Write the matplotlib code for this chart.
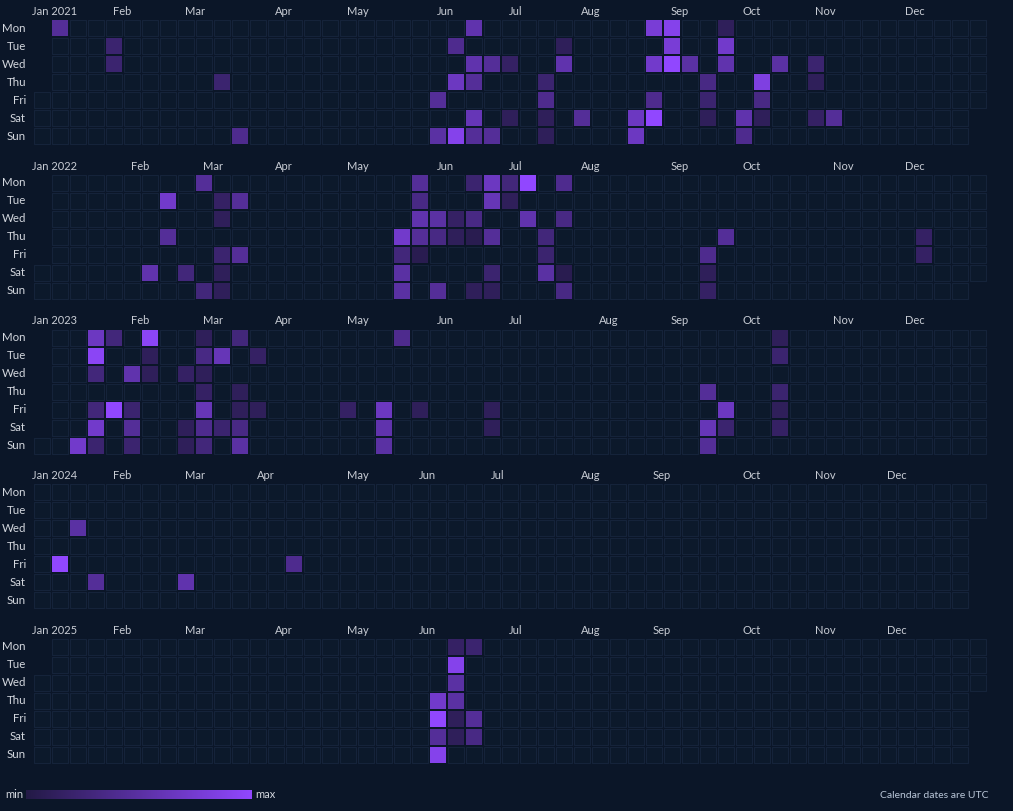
"""Daily activity calendar heatmap, one row-block per year (2021-2025),
weeks as columns (Mon..Sun rows), dark theme with a purple min->max scale."""

import datetime as dt

import matplotlib

matplotlib.use("Agg")
import matplotlib.pyplot as plt
from matplotlib.collections import PatchCollection
from matplotlib.colors import LinearSegmentedColormap, Normalize
from matplotlib.patches import Rectangle
import numpy as np

YEARS = [2021, 2022, 2023, 2024, 2025]
DAY_NAMES = ["Mon", "Tue", "Wed", "Thu", "Fri", "Sat", "Sun"]
MONTH_NAMES = ["Jan", "Feb", "Mar", "Apr", "May", "Jun",
               "Jul", "Aug", "Sep", "Oct", "Nov", "Dec"]

# active days (MM-DD) and relative activity (1 = min, 10 = max)
DAYS_2021 = ["01-04", "01-26", "01-27", "03-11", "03-21", "06-04", "06-06", "06-08",
             "06-10", "06-13", "06-14", "06-16", "06-17", "06-19", "06-20", "06-23",
             "06-27", "06-30", "07-03", "07-15", "07-16", "07-17", "07-18", "07-20",
             "07-21", "07-31", "08-21", "08-22", "08-23", "08-25", "08-27", "08-28",
             "08-30", "08-31", "09-01", "09-08", "09-16", "09-17", "09-18", "09-20",
             "09-21", "09-22", "10-02", "10-03", "10-07", "10-08", "10-09", "10-13",
             "10-27", "10-28", "10-30", "11-06"]
VALUES_2021 = [5, 3, 3, 3, 4.5, 5, 5.5, 4.5,
               7, 9, 6, 6, 5, 6.5, 5, 5,
               5, 2.5, 2, 3, 4.5, 2, 2, 2,
               6, 5, 7, 7, 8, 7.5, 4.5, 10,
               9, 8, 10, 5.5, 4, 3, 2, 2,
               7.5, 6, 6, 4.5, 8.5, 4, 2, 5.5,
               3, 2, 2.5, 5]

DAYS_2022 = ["02-12", "02-15", "02-17", "02-26", "02-28", "03-06", "03-08", "03-09",
             "03-11", "03-12", "03-13", "03-15", "03-18", "05-19", "05-20", "05-21",
             "05-22", "05-23", "05-24", "05-25", "05-26", "05-27", "06-01", "06-02",
             "06-05", "06-08", "06-09", "06-13", "06-15", "06-16", "06-19", "06-20",
             "06-21", "06-23", "06-25", "06-26", "06-27", "06-28", "07-04", "07-06",
             "07-14", "07-15", "07-16", "07-18", "07-20", "07-23", "07-24", "09-16",
             "09-17", "09-18", "09-22", "12-08", "12-09"]
VALUES_2022 = [6, 7.5, 5, 3.5, 5, 3.5, 2.5, 2,
               3, 2, 2, 5, 5, 7.5, 3.5, 5.5,
               5.5, 5, 4, 6, 5, 1.5, 5.5, 4,
               5, 2.5, 2, 3, 4, 1.5, 2, 7,
               6.5, 5, 3, 2, 3.5, 2, 10, 6,
               3.5, 3, 5.5, 4.5, 4, 1.5, 4, 4.5,
               2, 2.5, 5, 2.5, 2.5]

DAYS_2023 = ["01-15", "01-16", "01-17", "01-18", "01-20", "01-21", "01-22", "01-23",
             "01-27", "02-01", "02-03", "02-04", "02-05", "02-06", "02-07", "02-08",
             "02-22", "02-25", "02-26", "02-27", "02-28", "03-01", "03-02", "03-03",
             "03-04", "03-05", "03-07", "03-11", "03-13", "03-16", "03-17", "03-18",
             "03-19", "03-21", "03-24", "04-28", "05-12", "05-13", "05-14", "05-15",
             "05-26", "06-23", "06-24", "09-14", "09-16", "09-17", "09-22", "09-23",
             "10-09", "10-10", "10-12", "10-13", "10-14"]
VALUES_2023 = [7.5, 7, 9.5, 3.5, 3.5, 7.5, 3, 3.5,
               10, 6, 3, 5, 3, 9.5, 2, 2,
               2.5, 2, 2, 2, 4, 2, 2.5, 6.5,
               4.5, 3.5, 6.5, 3, 3.5, 2, 2, 4,
               5.5, 2.5, 2, 2.5, 7, 6, 5.5, 4.5,
               2, 2, 2, 5, 6.5, 5, 7, 3,
               2, 3, 3, 2, 2.5]

DAYS_2024 = ["01-12", "01-17", "01-27", "03-02", "04-12"]
VALUES_2024 = [10, 5.5, 5, 6, 4.5]

DAYS_2025 = ["06-05", "06-06", "06-07", "06-08", "06-09", "06-10", "06-11", "06-12",
             "06-13", "06-14", "06-16", "06-20", "06-21"]
VALUES_2025 = [7.5, 10, 5, 9, 2.5, 9, 5.5, 5.5,
               2, 2, 3, 5, 4]

ACTIVITY = {
    2021: (DAYS_2021, VALUES_2021),
    2022: (DAYS_2022, VALUES_2022),
    2023: (DAYS_2023, VALUES_2023),
    2024: (DAYS_2024, VALUES_2024),
    2025: (DAYS_2025, VALUES_2025),
}

BG = "#0b1628"
EMPTY_FACE = "#0c192b"
EMPTY_EDGE = "#15233a"
LABEL_COLOR = "#d3d7de"
MONTH_COLOR = "#c9cdd5"
CMAP = LinearSegmentedColormap.from_list("act", ["#231a46", "#9147ff"])
NORM = Normalize(vmin=1, vmax=10)

plt.rcParams["font.family"] = ["Lato", "DejaVu Sans"]

W, H = 1013, 811
PITCH = 18.0      # px per week column / weekday row
GAP = 1.0 / PITCH  # half of the 2px gap, in cell units


def px_rect(x, y, w, h):
    return [x / W, 1 - (y + h) / H, w / W, h / H]


def main():
    fig = plt.figure(figsize=(W / 100, H / 100), dpi=100, facecolor=BG)

    for k, year in enumerate(YEARS):
        top = 19 + 154.75 * k
        ax = fig.add_axes(px_rect(33, top, 53 * PITCH, 7 * PITCH))
        ax.set_facecolor(BG)
        ax.set_xlim(0, 53)
        ax.set_ylim(7, 0)
        ax.axis("off")

        days, vals = ACTIVITY[year]
        active = {dt.date.fromisoformat(f"{year}-{d}"): v for d, v in zip(days, vals)}
        jan1 = dt.date(year, 1, 1)
        offset = jan1.weekday()

        empty, filled, colors = [], [], []
        d = jan1
        while d.year == year:
            c = (d.timetuple().tm_yday - 1 + offset) // 7
            r = d.weekday()
            rect = Rectangle((c + GAP, r + GAP), 1 - 2 * GAP, 1 - 2 * GAP)
            if d in active:
                filled.append(rect)
                colors.append(CMAP(NORM(active[d])))
            else:
                empty.append(rect)
            d += dt.timedelta(days=1)

        ax.add_collection(PatchCollection(empty, facecolor=EMPTY_FACE,
                                          edgecolor=EMPTY_EDGE, linewidth=0.8))
        ax.add_collection(PatchCollection(filled, facecolor=colors,
                                          edgecolor="none"))

        for r, name in enumerate(DAY_NAMES):
            ax.text(-0.39, r + 0.5, name, ha="right", va="center",
                    fontsize=8.3, color=LABEL_COLOR, clip_on=False)

        ax.text(-0.06, -0.42, f"Jan {year}", ha="left", va="center",
                fontsize=8, color=MONTH_COLOR, clip_on=False)
        for m in range(2, 13):
            prev_last = dt.date(year, m, 1) - dt.timedelta(days=1)
            c = (prev_last.timetuple().tm_yday - 1 + offset) // 7
            ax.text(c + 0.44, -0.42, MONTH_NAMES[m - 1], ha="left", va="center",
                    fontsize=8, color=MONTH_COLOR, clip_on=False)

    # min -> max legend bar
    lax = fig.add_axes(px_rect(26, 790, 225, 9))
    lax.imshow(np.linspace(0, 1, 256)[None, :], aspect="auto",
               cmap=CMAP, extent=(0, 1, 0, 1))
    lax.axis("off")
    fig.text(5 / W, 1 - 795 / H, "min", ha="left", va="center",
             fontsize=8, color=LABEL_COLOR)
    fig.text(255 / W, 1 - 795 / H, "max", ha="left", va="center",
             fontsize=8, color=LABEL_COLOR)
    fig.text(988 / W, 1 - 795 / H, "Calendar dates are UTC", ha="right",
             va="center", fontsize=7.5, color="#b9c6d8")

    fig.savefig("out.png", dpi=100, facecolor=BG)
    plt.close(fig)


if __name__ == "__main__":
    main()
